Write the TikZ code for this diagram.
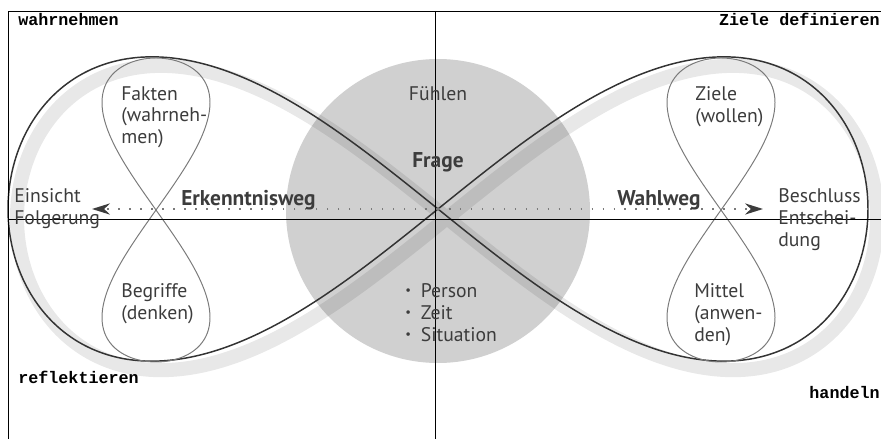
\documentclass[tikz,border=0pt]{standalone}
\usepackage{fontspec}
\setmainfont{PT Sans}
\newfontfamily\cornerfont{Liberation Mono}
\usepackage{xcolor}
\usepackage{tikz}
\usetikzlibrary{positioning,arrows.meta}

\definecolor{inktext}{HTML}{3C3C3C}
\definecolor{loopgray}{HTML}{7A7A7A}
\definecolor{discgray}{HTML}{D0D0D0}
\newcommand{\dotmark}{\raisebox{2.2pt}{\fontsize{9}{9}\selectfont\textbullet}\hspace{7pt}}

\begin{document}
\begin{tikzpicture}[x=0.025cm, y=-0.025cm,
  lbl/.style={inner sep=0, text=inktext, align=left, font=\fontsize{14}{15.6}\selectfont},
  boldlbl/.style={lbl, font=\fontsize{15.2}{16}\selectfont\bfseries},
  cornerlbl/.style={inner sep=0, font=\cornerfont\bfseries\fontsize{11.9}{13}\selectfont},
  wayarrow/.style={draw=loopgray, line width=1.1pt, dash pattern=on 1.1pt off 6.7pt,
    -{Stealth[length=12.8pt, width=8pt, inktext]}},
  smalleight/.style={draw=loopgray, line width=0.7pt, smooth, samples=161, variable=\t, domain=0:360},
  bigeight/.style={smooth, samples=241, variable=\t, domain=0:360}]
\useasboundingbox (0,0) rectangle (881,439);

% disc
\fill[discgray] (438,211) circle (152);

% shadow of the loop
\draw[bigeight, shift={(9,9)}, line width=10pt, black, draw opacity=0.09, line join=round]
  plot ({438 + 430*cos(\t)/(1+0.3*sin(\t)^2)}, {209 - 347*sin(\t)*cos(\t)/(1+0.3*sin(\t)^2)});

% outer loop
\draw[bigeight, black!80, line width=1.05pt]
  plot ({438 + 430*cos(\t)/(1+0.3*sin(\t)^2)}, {209 - 347*sin(\t)*cos(\t)/(1+0.3*sin(\t)^2)});

% small eights
\draw[smalleight] plot ({156 + 108*sin(\t)*cos(\t)}, {210 - 152*cos(\t)});
\draw[smalleight] plot ({721 + 108*sin(\t)*cos(\t)}, {210 - 152*cos(\t)});

% frame and axes
\draw[line width=0.7pt] (8,439) -- (8,11) -- (881,11);
\draw[line width=0.7pt] (435,11) -- (435,439);
\draw[line width=0.7pt] (8,219) -- (881,219);

% ways
\coordinate (hub) at (438,209);
\coordinate (lefttip) at (92,209);
\coordinate (righttip) at (763,209);
\draw[wayarrow] (hub) -- (lefttip);
\draw[wayarrow] (hub) -- (righttip);

% texts
\node[lbl, anchor=north west] (fakten) at (121,86) {Fakten\\(wahrneh-\\men)};
\node[lbl, anchor=north west] (begriffe) at (121,283) {Begriffe\\(denken)};
\node[lbl, anchor=north west] (ziele) at (695,86) {Ziele\\(wollen)};
\node[lbl, anchor=north west] (mittel) at (694,283) {Mittel\\(anwen-\\den)};
\node[lbl, anchor=north west] (einsicht) at (14,188) {Einsicht\\Folgerung};
\node[lbl, anchor=north west] (beschluss) at (778,188) {Beschluss\\Entschei-\\dung};
\node[boldlbl, anchor=north west] (erkenntnis) at (181,190) {Erkenntnisweg};
\node[boldlbl, anchor=north west] (wahlweg) at (617,190) {Wahlweg};
\node[lbl] (fuehlen) at (438,94) {Fühlen};
\node[boldlbl] (frage) at (438,162) {Frage};
\node[lbl, anchor=north west] (bedingungen) at (405,283)
  {\dotmark Person\\\dotmark Zeit\\\dotmark Situation};

\node[cornerlbl, anchor=base west] (wahrnehmen) at (18,26) {wahrnehmen};
\node[cornerlbl, anchor=base east] (zieledef) at (880,26) {Ziele definieren};
\node[cornerlbl, anchor=base west] (reflektieren) at (18,383) {reflektieren};
\node[cornerlbl, anchor=base east] (handeln) at (880,398) {handeln};

\end{tikzpicture}
\end{document}
